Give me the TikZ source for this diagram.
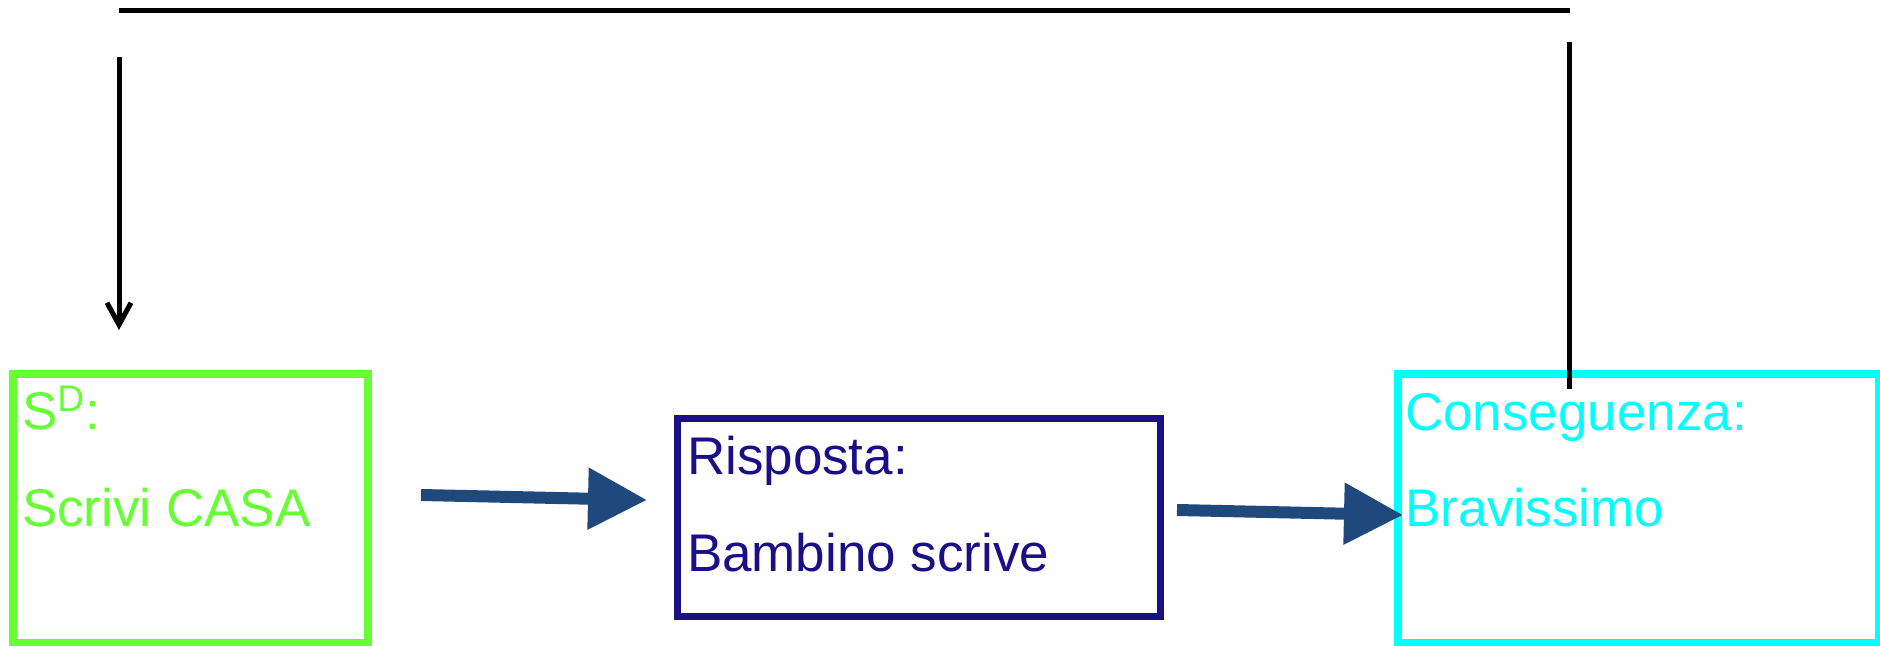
\documentclass[tikz,border=0pt]{standalone}
\usepackage{fontspec}
\setmainfont{Liberation Sans}
\usetikzlibrary{arrows.meta}
\definecolor{sdgreen}{RGB}{102,255,51}
\definecolor{rnavy}{RGB}{26,15,134}
\definecolor{ccyan}{RGB}{0,255,255}
\definecolor{arrblue}{RGB}{31,73,125}
\begin{document}
\begin{tikzpicture}[x=0.5pt,y=-0.5pt,
  box/.style={draw, rectangle, inner sep=0pt, outer sep=0pt, anchor=north west},
  lbl/.style={anchor=base west, inner sep=0pt, outer sep=0pt, font=\fontsize{26.5}{30}\selectfont},
  flow/.style={arrblue, line width=6pt, -{Triangle[length=29.5pt,width=29.5pt]}},
  fb/.style={black, line width=2.5pt}]
\useasboundingbox (0,0) rectangle (1880,646);
% boxes
\node[box, draw=sdgreen, line width=4pt, minimum width=177.5pt, minimum height=134.5pt] (sd) at (12.5,374) {};
\node[box, draw=rnavy, line width=3.5pt, minimum width=241.5pt, minimum height=99pt] (risp) at (677.5,418.5) {};
\node[box, draw=ccyan, line width=4pt, minimum width=240.5pt, minimum height=134.5pt] (cons) at (1398,374) {};
% texts
\node[lbl, text=sdgreen] (sdt1) at (22,430) {S\textsuperscript{D}:};
\node[lbl, text=sdgreen] (sdt2) at (22,527) {Scrivi CASA};
\node[lbl, text=rnavy] (rt1) at (687,475) {Risposta:};
\node[lbl, text=rnavy] (rt2) at (687,572) {Bambino scrive};
\node[lbl, text=ccyan] (ct1) at (1405,431) {Conseguenza:};
\node[lbl, text=ccyan] (ct2) at (1405,527) {Bravissimo};
% flow arrows
\coordinate (a1s) at (421,495);
\coordinate (a1e) at (647,500);
\coordinate (a2s) at (1177,510);
\coordinate (a2e) at (1403,515);
\draw[flow] (a1s) -- (a1e);
\draw[flow] (a2s) -- (a2e);
% feedback lines
\coordinate (r1) at (1569,389);
\coordinate (r2) at (1569,42);
\coordinate (t1) at (119,11);
\coordinate (t2) at (1570,11);
\coordinate (l1) at (119,57);
\coordinate (l2) at (119,330);
\draw[fb] (r1) -- (r2);
\draw[fb] (t1) -- (t2);
\draw[fb, -{Straight Barb[length=11pt,width=12pt]}] (l1) -- (l2);
\end{tikzpicture}
\end{document}
